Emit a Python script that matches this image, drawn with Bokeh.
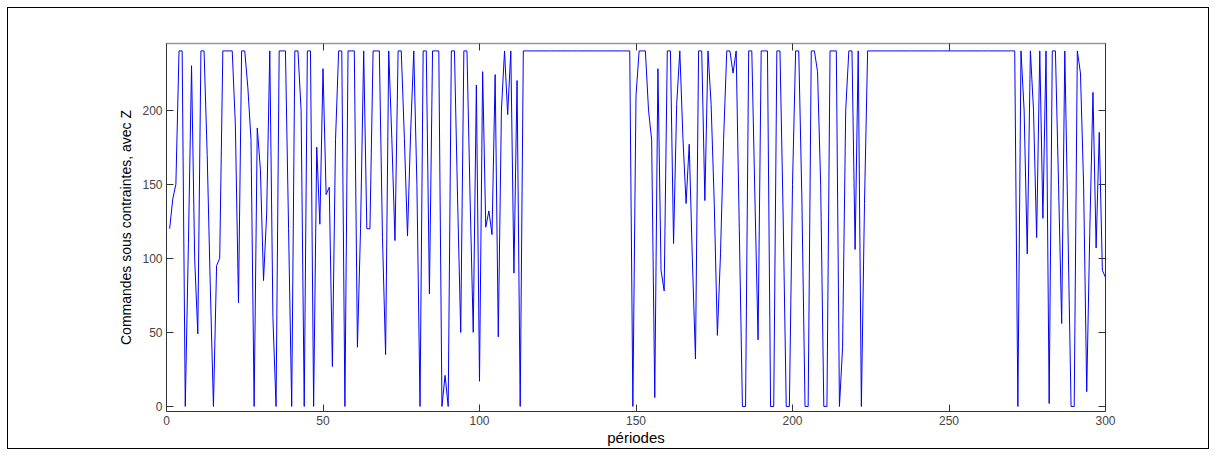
from bokeh.plotting import figure
from bokeh.models import Range1d, LinearAxis, FixedTicker
from bokeh.embed import file_html
from bokeh.resources import INLINE

# ---- data ----
periods = list(range(1, 301))
commands = [
    120, 140, 150, 240, 240, 0, 110, 230, 100, 49,
    240, 240, 170, 80, 0, 95, 100, 240, 240, 240,
    240, 190, 70, 240, 240, 215, 180, 0, 188, 160,
    85, 130, 240, 60, 0, 240, 240, 240, 120, 0,
    240, 240, 200, 0, 240, 240, 0, 175, 123, 228,
    143, 148, 27, 180, 240, 240, 0, 240, 240, 240,
    40, 120, 240, 120, 120, 240, 240, 240, 114, 35,
    240, 180, 112, 240, 240, 181, 115, 185, 240, 150,
    0, 240, 240, 76, 240, 240, 240, 0, 21, 0,
    240, 240, 140, 50, 240, 240, 140, 50, 217, 17,
    226, 121, 132, 116, 224, 47, 200, 240, 197, 240,
    90, 220, 0, 240, 240, 240, 240, 240, 240, 240,
    240, 240, 240, 240, 240, 240, 240, 240, 240, 240,
    240, 240, 240, 240, 240, 240, 240, 240, 240, 240,
    240, 240, 240, 240, 240, 240, 240, 240, 0, 210,
    240, 240, 240, 200, 180, 6, 228, 92, 78, 240,
    240, 110, 204, 240, 181, 137, 177, 100, 32, 240,
    240, 139, 240, 204, 137, 48, 103, 181, 240, 240,
    225, 240, 120, 0, 0, 240, 240, 140, 45, 240,
    240, 240, 0, 0, 240, 240, 130, 0, 0, 150,
    240, 240, 140, 0, 0, 240, 240, 226, 150, 0,
    0, 240, 240, 240, 0, 40, 200, 240, 240, 106,
    240, 0, 137, 240, 240, 240, 240, 240, 240, 240,
    240, 240, 240, 240, 240, 240, 240, 240, 240, 240,
    240, 240, 240, 240, 240, 240, 240, 240, 240, 240,
    240, 240, 240, 240, 240, 240, 240, 240, 240, 240,
    240, 240, 240, 240, 240, 240, 240, 240, 240, 240,
    240, 0, 240, 200, 103, 240, 200, 114, 240, 127,
    240, 2, 240, 240, 150, 56, 240, 120, 0, 0,
    240, 225, 150, 10, 120, 212, 107, 185, 92, 87,
]
x_ticks = [0, 50, 100, 150, 200, 250, 300]
y_ticks = [0, 50, 100, 150, 200]
x_label = "périodes"
y_label = "Commandes sous contraintes, avec Z"

FONT = "Liberation Sans"

p = figure(
    width=1200, height=440,
    output_backend="svg", toolbar_location=None,
    x_range=Range1d(0, 300), y_range=Range1d(-3.4, 245),
    min_border_left=158, min_border_right=103,
    min_border_top=35, min_border_bottom=35,
    x_axis_label=x_label, y_axis_label=y_label,
    background_fill_color="white", border_fill_color="white",
)
p.styles = {"outline": "1px solid black", "margin": "8px"}
p.outline_line_color = None
p.grid.visible = False

p.line(periods, commands, line_color="#0000ff", line_width=1)

def style_axis(ax, ticks, show_labels, line_color):
    ax.ticker = FixedTicker(ticks=ticks)
    ax.major_tick_in = 7
    ax.major_tick_out = 0
    ax.minor_tick_in = 0
    ax.minor_tick_out = 0
    ax.axis_line_color = line_color
    ax.major_tick_line_color = "#333333"
    ax.major_label_text_font = FONT
    ax.major_label_text_font_size = "12px"
    ax.major_label_text_color = "#444444"
    ax.major_label_standoff = 4
    ax.axis_label_text_font = FONT
    ax.axis_label_text_font_size = "14px"
    ax.axis_label_text_font_style = "normal"
    ax.axis_label_text_color = "black"
    if not show_labels:
        ax.major_label_overrides = {t: "" for t in ticks}

style_axis(p.xaxis[0], x_ticks, True, "#333333")
style_axis(p.yaxis[0], y_ticks, True, "#333333")
p.xaxis[0].axis_label_text_font_size = "15px"
p.xaxis[0].axis_label_standoff = 1
p.yaxis[0].axis_label_standoff = 5

top = LinearAxis()
right = LinearAxis()
p.add_layout(top, "above")
p.add_layout(right, "right")
style_axis(top, x_ticks, False, "#999999")
style_axis(right, y_ticks, False, "#333333")
top.axis_line_width = 1.5

open("out.html", "w").write(file_html(p, INLINE))
